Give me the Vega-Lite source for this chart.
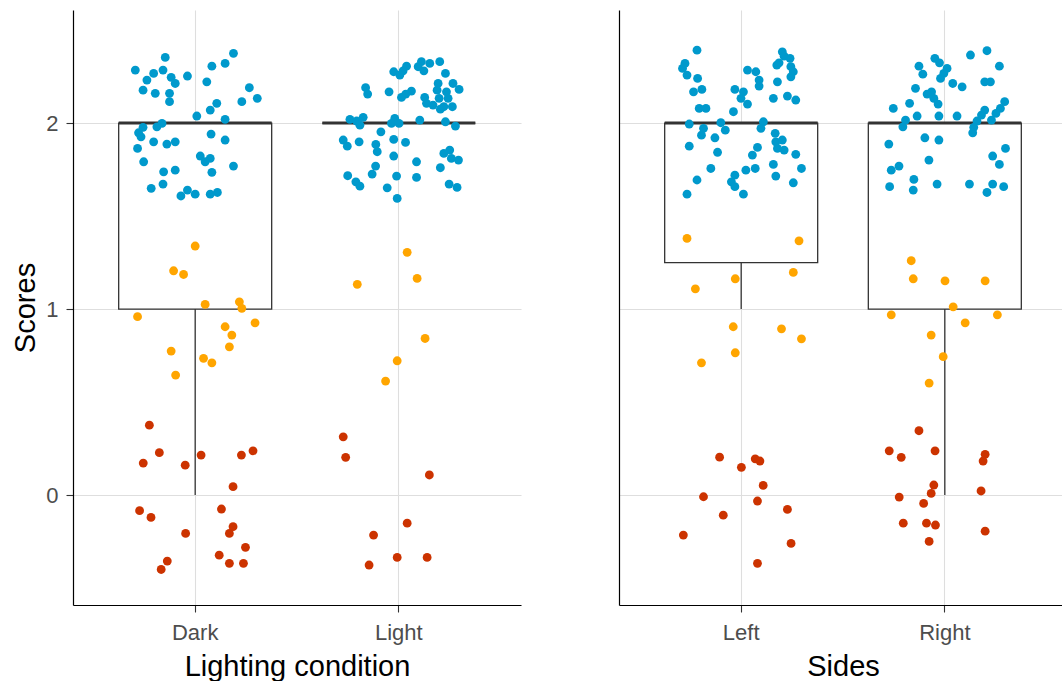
{
"$schema": "https://vega.github.io/schema/vega-lite/v6.json",
"padding": {"left": 11, "top": 10, "right": 0, "bottom": 0},
"background": "white",
"spacing": 98,
"config": {
  "view": {"stroke": null},
  "font": "Liberation Sans",
  "axis": {"domainColor": "#000000", "domainWidth": 1.2, "gridColor": "#DEDEDE", "gridWidth": 1.1, "tickColor": "#333333", "tickWidth": 1.1, "tickSize": 7, "labelFont": "Liberation Sans", "labelFontSize": 22, "labelColor": "#4D4D4D", "titleFont": "Liberation Sans", "titleFontSize": 29, "titleFontWeight": "normal", "titleColor": "#000000"}
},
"datasets": {
"lighting_box": [
 {"group": "Dark", "lower": 0, "q1": 1, "median": 2, "q3": 2, "upper": 2},
 {"group": "Light", "lower": 2, "q1": 2, "median": 2, "q3": 2, "upper": 2}
],
"sides_box": [
 {"group": "Left", "lower": 1, "q1": 1.25, "median": 2, "q3": 2, "upper": 2},
 {"group": "Right", "lower": 0, "q1": 1, "median": 2, "q3": 2, "upper": 2}
],
"lighting_pts": [
{"group":"Dark","score":"2","jitter":-0.147,"value":2.353},{"group":"Dark","score":"2","jitter":0.188,"value":2.375},{"group":"Dark","score":"2","jitter":-0.294,"value":2.285},{"group":"Dark","score":"2","jitter":0.082,"value":2.306},{"group":"Dark","score":"2","jitter":0.147,"value":2.321},{"group":"Dark","score":"2","jitter":-0.158,"value":2.285},{"group":"Dark","score":"2","jitter":-0.204,"value":2.267},{"group":"Dark","score":"2","jitter":-0.237,"value":2.231},{"group":"Dark","score":"2","jitter":-0.118,"value":2.246},{"group":"Dark","score":"2","jitter":-0.038,"value":2.253},{"group":"Dark","score":"2","jitter":-0.098,"value":2.213},{"group":"Dark","score":"2","jitter":0.057,"value":2.222},{"group":"Dark","score":"2","jitter":-0.256,"value":2.177},{"group":"Dark","score":"2","jitter":-0.196,"value":2.160},{"group":"Dark","score":"2","jitter":-0.126,"value":2.160},{"group":"Dark","score":"2","jitter":0.266,"value":2.190},{"group":"Dark","score":"2","jitter":0.305,"value":2.133},{"group":"Dark","score":"2","jitter":0.229,"value":2.115},{"group":"Dark","score":"2","jitter":-0.126,"value":2.115},{"group":"Dark","score":"2","jitter":0.106,"value":2.106},{"group":"Dark","score":"2","jitter":0.074,"value":2.070},{"group":"Dark","score":"2","jitter":0.008,"value":2.038},{"group":"Dark","score":"2","jitter":0.147,"value":2.020},{"group":"Dark","score":"2","jitter":-0.163,"value":1.998},{"group":"Dark","score":"2","jitter":-0.188,"value":1.980},{"group":"Dark","score":"2","jitter":-0.256,"value":1.977},{"group":"Dark","score":"2","jitter":-0.278,"value":1.948},{"group":"Dark","score":"2","jitter":-0.266,"value":1.926},{"group":"Dark","score":"2","jitter":0.078,"value":1.941},{"group":"Dark","score":"2","jitter":0.147,"value":1.909},{"group":"Dark","score":"2","jitter":-0.204,"value":1.899},{"group":"Dark","score":"2","jitter":-0.139,"value":1.887},{"group":"Dark","score":"2","jitter":-0.098,"value":1.899},{"group":"Dark","score":"2","jitter":-0.283,"value":1.864},{"group":"Dark","score":"2","jitter":0.025,"value":1.823},{"group":"Dark","score":"2","jitter":0.074,"value":1.810},{"group":"Dark","score":"2","jitter":0.049,"value":1.792},{"group":"Dark","score":"2","jitter":-0.253,"value":1.792},{"group":"Dark","score":"2","jitter":0.188,"value":1.769},{"group":"Dark","score":"2","jitter":-0.155,"value":1.738},{"group":"Dark","score":"2","jitter":-0.098,"value":1.747},{"group":"Dark","score":"2","jitter":0.082,"value":1.735},{"group":"Dark","score":"2","jitter":-0.158,"value":1.672},{"group":"Dark","score":"2","jitter":-0.216,"value":1.649},{"group":"Dark","score":"2","jitter":-0.038,"value":1.640},{"group":"Dark","score":"2","jitter":0.0,"value":1.618},{"group":"Dark","score":"2","jitter":-0.070,"value":1.608},{"group":"Dark","score":"2","jitter":0.074,"value":1.618},{"group":"Dark","score":"2","jitter":0.109,"value":1.627},
{"group":"Dark","score":"1","jitter":0.0,"value":1.339},{"group":"Dark","score":"1","jitter":-0.106,"value":1.206},{"group":"Dark","score":"1","jitter":-0.057,"value":1.186},{"group":"Dark","score":"1","jitter":0.049,"value":1.025},{"group":"Dark","score":"1","jitter":0.217,"value":1.039},{"group":"Dark","score":"1","jitter":0.229,"value":1.004},{"group":"Dark","score":"1","jitter":-0.283,"value":0.959},{"group":"Dark","score":"1","jitter":0.294,"value":0.926},{"group":"Dark","score":"1","jitter":0.147,"value":0.905},{"group":"Dark","score":"1","jitter":0.180,"value":0.860},{"group":"Dark","score":"1","jitter":-0.118,"value":0.774},{"group":"Dark","score":"1","jitter":0.168,"value":0.797},{"group":"Dark","score":"1","jitter":0.041,"value":0.735},{"group":"Dark","score":"1","jitter":0.082,"value":0.711},{"group":"Dark","score":"1","jitter":-0.096,"value":0.645},
{"group":"Dark","score":"0","jitter":-0.225,"value":0.376},{"group":"Dark","score":"0","jitter":-0.176,"value":0.228},{"group":"Dark","score":"0","jitter":-0.255,"value":0.172},{"group":"Dark","score":"0","jitter":-0.049,"value":0.161},{"group":"Dark","score":"0","jitter":0.029,"value":0.215},{"group":"Dark","score":"0","jitter":0.227,"value":0.215},{"group":"Dark","score":"0","jitter":0.284,"value":0.238},{"group":"Dark","score":"0","jitter":0.186,"value":0.045},{"group":"Dark","score":"0","jitter":-0.273,"value":-0.084},{"group":"Dark","score":"0","jitter":-0.217,"value":-0.120},{"group":"Dark","score":"0","jitter":0.129,"value":-0.075},{"group":"Dark","score":"0","jitter":-0.047,"value":-0.206},{"group":"Dark","score":"0","jitter":0.186,"value":-0.170},{"group":"Dark","score":"0","jitter":0.168,"value":-0.206},{"group":"Dark","score":"0","jitter":0.247,"value":-0.281},{"group":"Dark","score":"0","jitter":0.118,"value":-0.323},{"group":"Dark","score":"0","jitter":0.168,"value":-0.367},{"group":"Dark","score":"0","jitter":0.237,"value":-0.367},{"group":"Dark","score":"0","jitter":-0.137,"value":-0.355},{"group":"Dark","score":"0","jitter":-0.167,"value":-0.400},
{"group":"Light","score":"2","jitter":0.201,"value":2.330},{"group":"Light","score":"2","jitter":0.152,"value":2.321},{"group":"Light","score":"2","jitter":0.111,"value":2.330},{"group":"Light","score":"2","jitter":0.095,"value":2.303},{"group":"Light","score":"2","jitter":0.123,"value":2.281},{"group":"Light","score":"2","jitter":0.038,"value":2.306},{"group":"Light","score":"2","jitter":0.021,"value":2.281},{"group":"Light","score":"2","jitter":-0.025,"value":2.276},{"group":"Light","score":"2","jitter":0.005,"value":2.258},{"group":"Light","score":"2","jitter":0.229,"value":2.267},{"group":"Light","score":"2","jitter":0.193,"value":2.213},{"group":"Light","score":"2","jitter":0.266,"value":2.213},{"group":"Light","score":"2","jitter":0.296,"value":2.181},{"group":"Light","score":"2","jitter":0.188,"value":2.177},{"group":"Light","score":"2","jitter":0.234,"value":2.168},{"group":"Light","score":"2","jitter":-0.163,"value":2.190},{"group":"Light","score":"2","jitter":-0.153,"value":2.156},{"group":"Light","score":"2","jitter":-0.048,"value":2.168},{"group":"Light","score":"2","jitter":0.062,"value":2.172},{"group":"Light","score":"2","jitter":0.034,"value":2.156},{"group":"Light","score":"2","jitter":0.013,"value":2.138},{"group":"Light","score":"2","jitter":0.127,"value":2.138},{"group":"Light","score":"2","jitter":0.198,"value":2.133},{"group":"Light","score":"2","jitter":0.242,"value":2.133},{"group":"Light","score":"2","jitter":0.136,"value":2.106},{"group":"Light","score":"2","jitter":0.168,"value":2.097},{"group":"Light","score":"2","jitter":0.221,"value":2.088},{"group":"Light","score":"2","jitter":0.263,"value":2.088},{"group":"Light","score":"2","jitter":0.204,"value":2.075},{"group":"Light","score":"2","jitter":-0.240,"value":2.020},{"group":"Light","score":"2","jitter":-0.207,"value":2.011},{"group":"Light","score":"2","jitter":-0.175,"value":2.031},{"group":"Light","score":"2","jitter":-0.191,"value":1.989},{"group":"Light","score":"2","jitter":-0.020,"value":2.025},{"group":"Light","score":"2","jitter":-0.036,"value":1.998},{"group":"Light","score":"2","jitter":0.001,"value":1.998},{"group":"Light","score":"2","jitter":0.103,"value":2.016},{"group":"Light","score":"2","jitter":0.229,"value":2.007},{"group":"Light","score":"2","jitter":0.278,"value":1.984},{"group":"Light","score":"2","jitter":-0.088,"value":1.953},{"group":"Light","score":"2","jitter":-0.273,"value":1.909},{"group":"Light","score":"2","jitter":-0.253,"value":1.876},{"group":"Light","score":"2","jitter":-0.195,"value":1.899},{"group":"Light","score":"2","jitter":-0.113,"value":1.885},{"group":"Light","score":"2","jitter":-0.106,"value":1.846},{"group":"Light","score":"2","jitter":-0.025,"value":1.912},{"group":"Light","score":"2","jitter":0.033,"value":1.896},{"group":"Light","score":"2","jitter":-0.025,"value":1.823},{"group":"Light","score":"2","jitter":0.250,"value":1.855},{"group":"Light","score":"2","jitter":0.221,"value":1.837},{"group":"Light","score":"2","jitter":0.258,"value":1.810},{"group":"Light","score":"2","jitter":0.293,"value":1.801},{"group":"Light","score":"2","jitter":0.087,"value":1.792},{"group":"Light","score":"2","jitter":-0.114,"value":1.769},{"group":"Light","score":"2","jitter":-0.131,"value":1.726},{"group":"Light","score":"2","jitter":0.204,"value":1.760},{"group":"Light","score":"2","jitter":-0.251,"value":1.717},{"group":"Light","score":"2","jitter":-0.211,"value":1.684},{"group":"Light","score":"2","jitter":-0.191,"value":1.661},{"group":"Light","score":"2","jitter":-0.011,"value":1.715},{"group":"Light","score":"2","jitter":0.087,"value":1.708},{"group":"Light","score":"2","jitter":-0.057,"value":1.652},{"group":"Light","score":"2","jitter":0.247,"value":1.672},{"group":"Light","score":"2","jitter":0.286,"value":1.654},{"group":"Light","score":"2","jitter":-0.008,"value":1.595},
{"group":"Light","score":"1","jitter":0.041,"value":1.305},{"group":"Light","score":"1","jitter":0.090,"value":1.165},{"group":"Light","score":"1","jitter":-0.204,"value":1.133},{"group":"Light","score":"1","jitter":0.129,"value":0.842},{"group":"Light","score":"1","jitter":-0.008,"value":0.722},{"group":"Light","score":"1","jitter":-0.065,"value":0.613},
{"group":"Light","score":"0","jitter":-0.273,"value":0.313},{"group":"Light","score":"0","jitter":-0.261,"value":0.203},{"group":"Light","score":"0","jitter":0.150,"value":0.108},{"group":"Light","score":"0","jitter":0.041,"value":-0.151},{"group":"Light","score":"0","jitter":-0.124,"value":-0.215},{"group":"Light","score":"0","jitter":-0.008,"value":-0.335},{"group":"Light","score":"0","jitter":0.139,"value":-0.335},{"group":"Light","score":"0","jitter":-0.146,"value":-0.376}
],
"sides_pts": [
{"group":"Left","score":"2","jitter":-0.217,"value":2.392},{"group":"Left","score":"2","jitter":0.202,"value":2.383},{"group":"Left","score":"2","jitter":0.211,"value":2.360},{"group":"Left","score":"2","jitter":0.240,"value":2.348},{"group":"Left","score":"2","jitter":0.186,"value":2.324},{"group":"Left","score":"2","jitter":0.175,"value":2.312},{"group":"Left","score":"2","jitter":-0.276,"value":2.321},{"group":"Left","score":"2","jitter":-0.288,"value":2.294},{"group":"Left","score":"2","jitter":0.244,"value":2.303},{"group":"Left","score":"2","jitter":0.256,"value":2.276},{"group":"Left","score":"2","jitter":0.031,"value":2.285},{"group":"Left","score":"2","jitter":0.072,"value":2.276},{"group":"Left","score":"2","jitter":-0.266,"value":2.258},{"group":"Left","score":"2","jitter":-0.214,"value":2.240},{"group":"Left","score":"2","jitter":0.244,"value":2.249},{"group":"Left","score":"2","jitter":0.088,"value":2.231},{"group":"Left","score":"2","jitter":0.088,"value":2.199},{"group":"Left","score":"2","jitter":0.178,"value":2.222},{"group":"Left","score":"2","jitter":-0.193,"value":2.181},{"group":"Left","score":"2","jitter":-0.234,"value":2.168},{"group":"Left","score":"2","jitter":-0.031,"value":2.181},{"group":"Left","score":"2","jitter":0.011,"value":2.168},{"group":"Left","score":"2","jitter":0.158,"value":2.133},{"group":"Left","score":"2","jitter":0.227,"value":2.145},{"group":"Left","score":"2","jitter":0.268,"value":2.124},{"group":"Left","score":"2","jitter":-0.001,"value":2.133},{"group":"Left","score":"2","jitter":0.031,"value":2.102},{"group":"Left","score":"2","jitter":-0.206,"value":2.079},{"group":"Left","score":"2","jitter":-0.173,"value":2.079},{"group":"Left","score":"2","jitter":-0.038,"value":2.061},{"group":"Left","score":"2","jitter":-0.255,"value":1.995},{"group":"Left","score":"2","jitter":-0.100,"value":2.002},{"group":"Left","score":"2","jitter":-0.078,"value":1.962},{"group":"Left","score":"2","jitter":-0.185,"value":1.972},{"group":"Left","score":"2","jitter":-0.195,"value":1.935},{"group":"Left","score":"2","jitter":-0.129,"value":1.921},{"group":"Left","score":"2","jitter":0.109,"value":2.007},{"group":"Left","score":"2","jitter":0.097,"value":1.972},{"group":"Left","score":"2","jitter":0.167,"value":1.945},{"group":"Left","score":"2","jitter":0.170,"value":1.899},{"group":"Left","score":"2","jitter":0.202,"value":1.909},{"group":"Left","score":"2","jitter":0.178,"value":1.864},{"group":"Left","score":"2","jitter":0.211,"value":1.855},{"group":"Left","score":"2","jitter":-0.255,"value":1.876},{"group":"Left","score":"2","jitter":-0.116,"value":1.843},{"group":"Left","score":"2","jitter":0.080,"value":1.869},{"group":"Left","score":"2","jitter":0.055,"value":1.828},{"group":"Left","score":"2","jitter":0.268,"value":1.832},{"group":"Left","score":"2","jitter":-0.149,"value":1.756},{"group":"Left","score":"2","jitter":0.069,"value":1.756},{"group":"Left","score":"2","jitter":0.023,"value":1.747},{"group":"Left","score":"2","jitter":0.158,"value":1.778},{"group":"Left","score":"2","jitter":0.296,"value":1.756},{"group":"Left","score":"2","jitter":0.170,"value":1.715},{"group":"Left","score":"2","jitter":-0.217,"value":1.694},{"group":"Left","score":"2","jitter":-0.031,"value":1.720},{"group":"Left","score":"2","jitter":-0.048,"value":1.684},{"group":"Left","score":"2","jitter":-0.031,"value":1.658},{"group":"Left","score":"2","jitter":0.256,"value":1.679},{"group":"Left","score":"2","jitter":-0.266,"value":1.618},{"group":"Left","score":"2","jitter":0.011,"value":1.618},
{"group":"Left","score":"1","jitter":-0.266,"value":1.380},{"group":"Left","score":"1","jitter":0.284,"value":1.367},{"group":"Left","score":"1","jitter":0.256,"value":1.197},{"group":"Left","score":"1","jitter":-0.029,"value":1.163},{"group":"Left","score":"1","jitter":-0.225,"value":1.109},{"group":"Left","score":"1","jitter":-0.039,"value":0.905},{"group":"Left","score":"1","jitter":0.198,"value":0.894},{"group":"Left","score":"1","jitter":0.296,"value":0.840},{"group":"Left","score":"1","jitter":-0.029,"value":0.765},{"group":"Left","score":"1","jitter":-0.195,"value":0.711},
{"group":"Left","score":"0","jitter":-0.106,"value":0.204},{"group":"Left","score":"0","jitter":0.069,"value":0.195},{"group":"Left","score":"0","jitter":0.092,"value":0.183},{"group":"Left","score":"0","jitter":0.001,"value":0.149},{"group":"Left","score":"0","jitter":0.108,"value":0.052},{"group":"Left","score":"0","jitter":-0.185,"value":-0.009},{"group":"Left","score":"0","jitter":0.080,"value":-0.032},{"group":"Left","score":"0","jitter":0.227,"value":-0.077},{"group":"Left","score":"0","jitter":-0.088,"value":-0.108},{"group":"Left","score":"0","jitter":-0.284,"value":-0.215},{"group":"Left","score":"0","jitter":0.245,"value":-0.260},{"group":"Left","score":"0","jitter":0.080,"value":-0.367},
{"group":"Right","score":"2","jitter":0.207,"value":2.389},{"group":"Right","score":"2","jitter":0.126,"value":2.366},{"group":"Right","score":"2","jitter":-0.049,"value":2.348},{"group":"Right","score":"2","jitter":-0.026,"value":2.324},{"group":"Right","score":"2","jitter":-0.127,"value":2.306},{"group":"Right","score":"2","jitter":-0.108,"value":2.263},{"group":"Right","score":"2","jitter":0.011,"value":2.294},{"group":"Right","score":"2","jitter":-0.005,"value":2.267},{"group":"Right","score":"2","jitter":-0.021,"value":2.240},{"group":"Right","score":"2","jitter":0.268,"value":2.306},{"group":"Right","score":"2","jitter":0.039,"value":2.213},{"group":"Right","score":"2","jitter":0.085,"value":2.195},{"group":"Right","score":"2","jitter":0.196,"value":2.222},{"group":"Right","score":"2","jitter":0.224,"value":2.222},{"group":"Right","score":"2","jitter":-0.144,"value":2.187},{"group":"Right","score":"2","jitter":-0.065,"value":2.168},{"group":"Right","score":"2","jitter":-0.087,"value":2.156},{"group":"Right","score":"2","jitter":-0.054,"value":2.133},{"group":"Right","score":"2","jitter":-0.033,"value":2.102},{"group":"Right","score":"2","jitter":-0.173,"value":2.106},{"group":"Right","score":"2","jitter":-0.253,"value":2.079},{"group":"Right","score":"2","jitter":-0.136,"value":2.038},{"group":"Right","score":"2","jitter":-0.029,"value":2.038},{"group":"Right","score":"2","jitter":0.060,"value":2.038},{"group":"Right","score":"2","jitter":0.196,"value":2.070},{"group":"Right","score":"2","jitter":0.180,"value":2.043},{"group":"Right","score":"2","jitter":0.158,"value":2.011},{"group":"Right","score":"2","jitter":0.142,"value":1.977},{"group":"Right","score":"2","jitter":0.137,"value":1.948},{"group":"Right","score":"2","jitter":0.294,"value":2.115},{"group":"Right","score":"2","jitter":0.273,"value":2.079},{"group":"Right","score":"2","jitter":0.251,"value":2.052},{"group":"Right","score":"2","jitter":0.229,"value":2.016},{"group":"Right","score":"2","jitter":-0.193,"value":2.016},{"group":"Right","score":"2","jitter":-0.206,"value":1.980},{"group":"Right","score":"2","jitter":-0.275,"value":1.887},{"group":"Right","score":"2","jitter":-0.098,"value":1.921},{"group":"Right","score":"2","jitter":-0.029,"value":1.909},{"group":"Right","score":"2","jitter":0.298,"value":1.864},{"group":"Right","score":"2","jitter":0.235,"value":1.823},{"group":"Right","score":"2","jitter":0.268,"value":1.778},{"group":"Right","score":"2","jitter":-0.078,"value":1.801},{"group":"Right","score":"2","jitter":-0.225,"value":1.769},{"group":"Right","score":"2","jitter":-0.263,"value":1.747},{"group":"Right","score":"2","jitter":-0.152,"value":1.697},{"group":"Right","score":"2","jitter":-0.155,"value":1.640},{"group":"Right","score":"2","jitter":-0.271,"value":1.658},{"group":"Right","score":"2","jitter":-0.038,"value":1.672},{"group":"Right","score":"2","jitter":0.121,"value":1.672},{"group":"Right","score":"2","jitter":0.235,"value":1.672},{"group":"Right","score":"2","jitter":0.207,"value":1.627},{"group":"Right","score":"2","jitter":0.289,"value":1.658},
{"group":"Right","score":"1","jitter":-0.165,"value":1.260},{"group":"Right","score":"1","jitter":-0.155,"value":1.163},{"group":"Right","score":"1","jitter":0.001,"value":1.152},{"group":"Right","score":"1","jitter":0.198,"value":1.152},{"group":"Right","score":"1","jitter":0.041,"value":1.012},{"group":"Right","score":"1","jitter":-0.263,"value":0.969},{"group":"Right","score":"1","jitter":0.258,"value":0.969},{"group":"Right","score":"1","jitter":0.100,"value":0.926},{"group":"Right","score":"1","jitter":-0.067,"value":0.860},{"group":"Right","score":"1","jitter":-0.008,"value":0.744},{"group":"Right","score":"1","jitter":-0.077,"value":0.602},
{"group":"Right","score":"0","jitter":-0.127,"value":0.346},{"group":"Right","score":"0","jitter":-0.273,"value":0.238},{"group":"Right","score":"0","jitter":-0.214,"value":0.203},{"group":"Right","score":"0","jitter":-0.048,"value":0.238},{"group":"Right","score":"0","jitter":0.198,"value":0.219},{"group":"Right","score":"0","jitter":0.188,"value":0.183},{"group":"Right","score":"0","jitter":-0.054,"value":0.054},{"group":"Right","score":"0","jitter":-0.067,"value":0.009},{"group":"Right","score":"0","jitter":0.178,"value":0.022},{"group":"Right","score":"0","jitter":-0.224,"value":-0.011},{"group":"Right","score":"0","jitter":-0.104,"value":-0.045},{"group":"Right","score":"0","jitter":-0.204,"value":-0.151},{"group":"Right","score":"0","jitter":-0.090,"value":-0.151},{"group":"Right","score":"0","jitter":-0.046,"value":-0.161},{"group":"Right","score":"0","jitter":0.198,"value":-0.194},{"group":"Right","score":"0","jitter":-0.077,"value":-0.249}
]
},
"hconcat": [
{
 "width": 448, "height": 595,
 "layer": [
  {"data": {"name": "lighting_box"},
   "mark": {"type": "bar", "size": 153, "fill": "white", "stroke": "#333333", "strokeWidth": 1.3},
   "encoding": {
    "x": {"field": "group", "type": "nominal", "scale": {"type": "band", "paddingInner": 0, "paddingOuter": 0.1}, "axis": {"title": "Lighting condition", "bandPosition": 0.5, "grid": true, "labelAngle": 0, "labelPadding": 10, "titlePadding": 9}},
    "y": {"field": "q3", "type": "quantitative", "scale": {"domain": [-0.591, 2.608], "nice": false, "zero": false}, "axis": {"title": "Scores", "values": [0, 1, 2], "format": "d", "grid": true, "labelPadding": 8, "titlePadding": 5}},
    "y2": {"field": "q1"}
   }},
  {"data": {"name": "lighting_box"},
   "mark": {"type": "rule", "color": "#333333", "strokeWidth": 1.3},
   "encoding": {"x": {"field": "group", "type": "nominal", "bandPosition": 0.5}, "y": {"field": "lower", "type": "quantitative"}, "y2": {"field": "q1"}}},
  {"data": {"name": "lighting_box"},
   "mark": {"type": "tick", "color": "#333333", "thickness": 3, "size": 153, "opacity": 1},
   "encoding": {"x": {"field": "group", "type": "nominal"}, "y": {"field": "median", "type": "quantitative"}}},
  {"data": {"name": "lighting_pts"},
   "mark": {"type": "circle", "size": 78, "opacity": 1},
   "encoding": {
    "x": {"field": "group", "type": "nominal"},
    "xOffset": {"field": "jitter", "type": "quantitative", "scale": {"domain": [-0.5, 0.5]}},
    "y": {"field": "value", "type": "quantitative"},
    "color": {"field": "score", "type": "nominal", "scale": {"domain": ["0", "1", "2"], "range": ["#CC3300", "#FFA500", "#0099CC"]}, "legend": null}
   }}
 ]
},
{
 "width": 448, "height": 595,
 "layer": [
  {"data": {"name": "sides_box"},
   "mark": {"type": "bar", "size": 153, "fill": "white", "stroke": "#333333", "strokeWidth": 1.3},
   "encoding": {
    "x": {"field": "group", "type": "nominal", "scale": {"type": "band", "paddingInner": 0, "paddingOuter": 0.1}, "axis": {"title": "Sides", "bandPosition": 0.5, "grid": true, "labelAngle": 0, "labelPadding": 10, "titlePadding": 9}},
    "y": {"field": "q3", "type": "quantitative", "scale": {"domain": [-0.591, 2.608], "nice": false, "zero": false}, "axis": {"title": null, "values": [0, 1, 2], "grid": true, "labels": false, "ticks": false}},
    "y2": {"field": "q1"}
   }},
  {"data": {"name": "sides_box"},
   "mark": {"type": "rule", "color": "#333333", "strokeWidth": 1.3},
   "encoding": {"x": {"field": "group", "type": "nominal", "bandPosition": 0.5}, "y": {"field": "lower", "type": "quantitative"}, "y2": {"field": "q1"}}},
  {"data": {"name": "sides_box"},
   "mark": {"type": "tick", "color": "#333333", "thickness": 3, "size": 153, "opacity": 1},
   "encoding": {"x": {"field": "group", "type": "nominal"}, "y": {"field": "median", "type": "quantitative"}}},
  {"data": {"name": "sides_pts"},
   "mark": {"type": "circle", "size": 78, "opacity": 1},
   "encoding": {
    "x": {"field": "group", "type": "nominal"},
    "xOffset": {"field": "jitter", "type": "quantitative", "scale": {"domain": [-0.5, 0.5]}},
    "y": {"field": "value", "type": "quantitative"},
    "color": {"field": "score", "type": "nominal", "scale": {"domain": ["0", "1", "2"], "range": ["#CC3300", "#FFA500", "#0099CC"]}, "legend": null}
   }}
 ]
}
]
}
